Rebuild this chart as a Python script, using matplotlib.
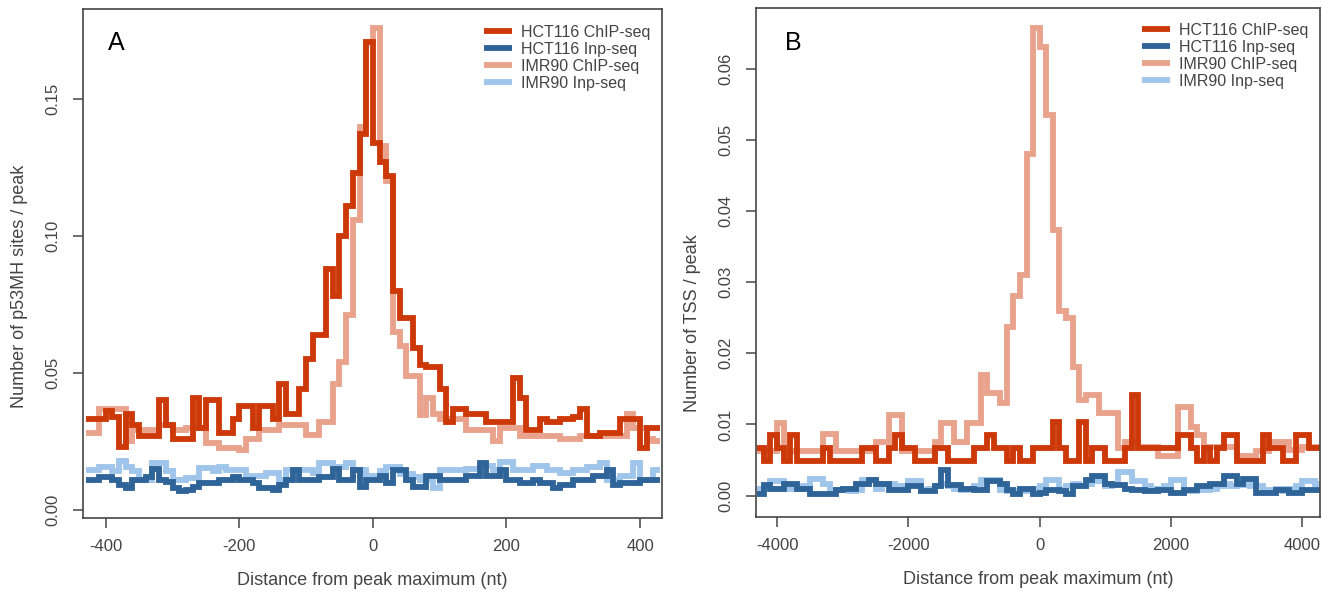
import numpy as np
import matplotlib
matplotlib.use("Agg")
import matplotlib.pyplot as plt
from matplotlib.lines import Line2D

plt.rcParams['font.family'] = ['Liberation Sans', 'DejaVu Sans']
plt.rcParams['axes.unicode_minus'] = False

# ---- panel A: p53MH sites, 10 nt bins from -430 to 430 ----
edges_a = np.arange(-430, 431, 10)

hct_chip_a = [
    0.033, 0.033, 0.033, 0.036, 0.034, 0.023, 0.035, 0.031, 0.027, 0.027,
    0.027, 0.040, 0.031, 0.026, 0.026, 0.026, 0.041, 0.030, 0.040, 0.040,
    0.028, 0.028, 0.033, 0.038, 0.038, 0.030, 0.038, 0.038, 0.033, 0.046,
    0.035, 0.035, 0.044, 0.055, 0.064, 0.064, 0.088, 0.078, 0.100, 0.111,
    0.123, 0.1375, 0.171, 0.134, 0.127, 0.122, 0.080, 0.070, 0.070, 0.059,
    0.053, 0.052, 0.052, 0.044, 0.032, 0.037, 0.037, 0.035, 0.035, 0.035,
    0.032, 0.032, 0.032, 0.032, 0.048, 0.041, 0.029, 0.029, 0.033, 0.032,
    0.032, 0.033, 0.033, 0.034, 0.037, 0.027, 0.027, 0.028, 0.028, 0.028,
    0.033, 0.033, 0.033, 0.0225, 0.030, 0.030]

imr_chip_a = [
    0.028, 0.028, 0.037, 0.037, 0.037, 0.037, 0.025, 0.029, 0.029, 0.029,
    0.029, 0.031, 0.031, 0.029, 0.029, 0.030, 0.030, 0.030, 0.0244, 0.0244,
    0.0226, 0.0226, 0.0226, 0.022, 0.026, 0.026, 0.029, 0.029, 0.029, 0.031,
    0.031, 0.031, 0.031, 0.0274, 0.0274, 0.032, 0.032, 0.046, 0.054, 0.071,
    0.106, 0.140, 0.171, 0.176, 0.133, 0.120, 0.065, 0.060, 0.049, 0.049,
    0.0345, 0.041, 0.035, 0.033, 0.033, 0.033, 0.033, 0.029, 0.029, 0.029,
    0.029, 0.025, 0.030, 0.030, 0.030, 0.027, 0.027, 0.027, 0.027, 0.027,
    0.027, 0.026, 0.026, 0.026, 0.027, 0.027, 0.027, 0.027, 0.027, 0.027,
    0.027, 0.035, 0.030, 0.030, 0.026, 0.025]

hct_inp_a = [
    0.011, 0.011, 0.012, 0.012, 0.011, 0.009, 0.008, 0.011, 0.011, 0.012,
    0.015, 0.011, 0.010, 0.008, 0.007, 0.0073, 0.0085, 0.0097, 0.0097, 0.0097,
    0.011, 0.011, 0.012, 0.011, 0.011, 0.0097, 0.008, 0.0079, 0.0073, 0.009,
    0.011, 0.0146, 0.011, 0.011, 0.011, 0.012, 0.012, 0.015, 0.011, 0.011,
    0.0146, 0.0085, 0.011, 0.011, 0.0122, 0.0097, 0.0146, 0.0146, 0.011, 0.0085,
    0.0085, 0.0122, 0.0122, 0.011, 0.011, 0.011, 0.011, 0.0122, 0.0122, 0.017,
    0.0122, 0.0122, 0.0146, 0.011, 0.011, 0.0097, 0.0097, 0.011, 0.0097, 0.0097,
    0.0079, 0.0091, 0.0091, 0.011, 0.011, 0.011, 0.0122, 0.0122, 0.0146, 0.0091,
    0.0097, 0.0097, 0.0097, 0.011, 0.011, 0.011]

imr_inp_a = [
    0.0146, 0.0146, 0.0158, 0.0158, 0.014, 0.018, 0.0158, 0.014, 0.011, 0.011,
    0.017, 0.017, 0.014, 0.011, 0.011, 0.0116, 0.0116, 0.0152, 0.0152, 0.014,
    0.0158, 0.0146, 0.0146, 0.0146, 0.0122, 0.0122, 0.0122, 0.0134, 0.0134, 0.011,
    0.0146, 0.0146, 0.0146, 0.0146, 0.0134, 0.017, 0.017, 0.0158, 0.0158, 0.017,
    0.0146, 0.0146, 0.0122, 0.0122, 0.014, 0.0158, 0.0158, 0.013, 0.013, 0.012,
    0.011, 0.011, 0.008, 0.0146, 0.0146, 0.0146, 0.0146, 0.015, 0.015, 0.016,
    0.016, 0.0146, 0.0176, 0.0176, 0.0146, 0.0146, 0.0146, 0.016, 0.016, 0.0146,
    0.0146, 0.0134, 0.0134, 0.0146, 0.0146, 0.0158, 0.0158, 0.017, 0.011, 0.011,
    0.0122, 0.0122, 0.017, 0.011, 0.011, 0.0146]

# ---- panel B: TSS, 100 nt bins from -4300 to 4300 ----
edges_b = np.arange(-4300, 4301, 100)

hct_chip_b = [
    0.0067, 0.0048, 0.0085, 0.0067, 0.0048, 0.0085, 0.0048, 0.0048, 0.0048, 0.0048,
    0.0067, 0.0048, 0.0048, 0.0048, 0.0048, 0.0048, 0.0067, 0.0067, 0.0048, 0.0048,
    0.0067, 0.0085, 0.0067, 0.0067, 0.0048, 0.0048, 0.0048, 0.0067, 0.0067, 0.0048,
    0.0048, 0.0048, 0.0048, 0.0067, 0.0067, 0.0085, 0.0067, 0.0067, 0.0048, 0.0067,
    0.0048, 0.0048, 0.0067, 0.0067, 0.0067, 0.0104, 0.0067, 0.0048, 0.0048, 0.0104,
    0.0048, 0.0067, 0.0067, 0.0048, 0.0048, 0.0048, 0.0067, 0.0141, 0.0067, 0.0067,
    0.0067, 0.0067, 0.0067, 0.0067, 0.0085, 0.0085, 0.0067, 0.0048, 0.0067, 0.0048,
    0.0067, 0.0085, 0.0085, 0.0048, 0.0048, 0.0048, 0.0048, 0.0085, 0.0067, 0.0067,
    0.0048, 0.0048, 0.0085, 0.0085, 0.0067, 0.0067]

imr_chip_b = [
    0.0063, 0.0063, 0.0063, 0.0102, 0.0063, 0.0063, 0.0063, 0.0063, 0.0063, 0.0063,
    0.0087, 0.0087, 0.0063, 0.0063, 0.0063, 0.0063, 0.0063, 0.0063, 0.0075, 0.0075,
    0.0113, 0.0113, 0.0063, 0.0063, 0.0063, 0.0063, 0.0063, 0.0075, 0.0102, 0.0102,
    0.0075, 0.0075, 0.0102, 0.0102, 0.0169, 0.0144, 0.0144, 0.0130, 0.0237, 0.0280,
    0.0310, 0.0480, 0.0657, 0.0630, 0.0535, 0.0373, 0.0260, 0.0250, 0.0180, 0.0134,
    0.0141, 0.0141, 0.0116, 0.0116, 0.0116, 0.0067, 0.0075, 0.0075, 0.0068, 0.0068,
    0.0068, 0.0056, 0.0056, 0.0056, 0.0124, 0.0124, 0.0096, 0.0085, 0.0068, 0.0068,
    0.0068, 0.0068, 0.0068, 0.0055, 0.0055, 0.0055, 0.0062, 0.0062, 0.0075, 0.0075,
    0.0075, 0.0064, 0.0064, 0.0068, 0.0068, 0.0068]

hct_inp_b = [
    0.0003, 0.0015, 0.0010, 0.0010, 0.0017, 0.0017, 0.0010, 0.0010, 0.0002, 0.0002,
    0.0002, 0.0002, 0.0008, 0.0010, 0.0010, 0.0017, 0.0017, 0.0022, 0.0017, 0.0017,
    0.0008, 0.0008, 0.0008, 0.0013, 0.0013, 0.0006, 0.0006, 0.0013, 0.0036, 0.0015,
    0.0015, 0.0010, 0.0010, 0.0008, 0.0008, 0.0020, 0.0020, 0.0017, 0.0008, 0.0003,
    0.0010, 0.0010, 0.0003, 0.0004, 0.0008, 0.0008, 0.0006, 0.0003, 0.0013, 0.0013,
    0.0022, 0.0027, 0.0027, 0.0017, 0.0015, 0.0015, 0.0010, 0.0008, 0.0008, 0.0006,
    0.0006, 0.0008, 0.0008, 0.0004, 0.0004, 0.0008, 0.0008, 0.0013, 0.0013, 0.0017,
    0.0017, 0.0027, 0.0027, 0.0017, 0.0024, 0.0024, 0.0004, 0.0004, 0.0004, 0.0008,
    0.0008, 0.0004, 0.0004, 0.0008, 0.0008, 0.0008]

imr_inp_b = [
    0.0010, 0.0013, 0.0020, 0.0020, 0.0013, 0.0010, 0.0010, 0.0013, 0.0024, 0.0024,
    0.0017, 0.0008, 0.0008, 0.0010, 0.0006, 0.0008, 0.0022, 0.0022, 0.0010, 0.0017,
    0.0017, 0.0013, 0.0010, 0.0020, 0.0020, 0.0008, 0.0010, 0.0013, 0.0017, 0.0013,
    0.0010, 0.0008, 0.0010, 0.0013, 0.0022, 0.0022, 0.0022, 0.0008, 0.0006, 0.0006,
    0.0006, 0.0010, 0.0010, 0.0013, 0.0022, 0.0022, 0.0010, 0.0013, 0.0017, 0.0013,
    0.0017, 0.0020, 0.0020, 0.0013, 0.0017, 0.0033, 0.0033, 0.0020, 0.0020, 0.0013,
    0.0010, 0.0008, 0.0013, 0.0022, 0.0022, 0.0006, 0.0006, 0.0008, 0.0008, 0.0010,
    0.0013, 0.0017, 0.0013, 0.0015, 0.0015, 0.0013, 0.0013, 0.0008, 0.0008, 0.0010,
    0.0006, 0.0010, 0.0013, 0.0020, 0.0020, 0.0017]

labels = ["HCT116 ChIP-seq", "HCT116 Inp-seq", "IMR90 ChIP-seq", "IMR90 Inp-seq"]
colors = ["#cc3808", "#2f6499", "#e9a28c", "#9fc5ea"]
grey = "#454545"
LW = 4.2


def step_line(ax, edges, vals, color):
    # R-style type="s": hold each bin value until the next edge
    y = np.append(vals, vals[-1])
    ax.plot(edges, y, drawstyle="steps-post", color=color, lw=LW,
            solid_joinstyle="miter", solid_capstyle="butt")


def style_axes(ax, ylabel, ylab_pos):
    for s in ax.spines.values():
        s.set_color(grey)
        s.set_linewidth(1.2)
    ax.tick_params(axis="both", direction="out", length=7, width=1.1,
                   color=grey, labelcolor="#444444", labelsize=12)
    ax.tick_params(axis="y", labelrotation=90, pad=9)
    ax.tick_params(axis="x", pad=8)
    for lab in ax.get_yticklabels():
        lab.set_va("center")
    ax.set_xlabel("Distance from peak maximum (nt)", fontsize=13,
                  color="#444444", labelpad=13)
    ax.set_ylabel(ylabel, fontsize=13, color="#444444")
    ax.yaxis.set_label_coords(ylab_pos[0], ylab_pos[1])
    ax.yaxis.label.set_va("center")


def add_legend(ax, anchor):
    handles = [Line2D([], [], color=c, lw=LW, solid_capstyle="butt") for c in colors]
    leg = ax.legend(handles, labels, loc="upper left", bbox_to_anchor=anchor,
                    frameon=False, fontsize=11.5, handlelength=1.75,
                    handletextpad=0.55, labelspacing=0.12, borderpad=0,
                    borderaxespad=0)
    for t in leg.get_texts():
        t.set_color("#444444")


fig = plt.figure(figsize=(13.22, 5.92), dpi=100)

# panel A
axA = fig.add_axes([0.0628, 0.125, 0.438, 0.8598])
step_line(axA, edges_a, imr_inp_a, colors[3])
step_line(axA, edges_a, imr_chip_a, colors[2])
step_line(axA, edges_a, hct_inp_a, colors[1])
step_line(axA, edges_a, hct_chip_a, colors[0])
axA.set_xlim(-434, 433)
axA.set_ylim(-0.003, 0.183)
axA.set_xticks([-400, -200, 0, 200, 400])
axA.set_yticks([0.0, 0.05, 0.10, 0.15])
axA.set_yticklabels(["0.00", "0.05", "0.10", "0.15"])
style_axes(axA, "Number of p53MH sites / peak", (-0.109, 0.455))
add_legend(axA, (0.693, 0.969))
axA.text(0.043, 0.919, "A", transform=axA.transAxes, fontsize=18, color="black")

# panel B
axB = fig.add_axes([0.5719, 0.1267, 0.4266, 0.8598])
step_line(axB, edges_b, imr_inp_b, colors[3])
step_line(axB, edges_b, imr_chip_b, colors[2])
step_line(axB, edges_b, hct_inp_b, colors[1])
step_line(axB, edges_b, hct_chip_b, colors[0])
axB.set_xlim(-4320, 4270)
axB.set_ylim(-0.003, 0.0685)
axB.set_xticks([-4000, -2000, 0, 2000, 4000])
axB.set_yticks([0.0, 0.01, 0.02, 0.03, 0.04, 0.05, 0.06])
axB.set_yticklabels(["0.00", "0.01", "0.02", "0.03", "0.04", "0.05", "0.06"])
style_axes(axB, "Number of TSS / peak", (-0.112, 0.381))
add_legend(axB, (0.684, 0.971))
axB.text(0.051, 0.917, "B", transform=axB.transAxes, fontsize=18, color="black")

fig.savefig("out.png", dpi=100)
